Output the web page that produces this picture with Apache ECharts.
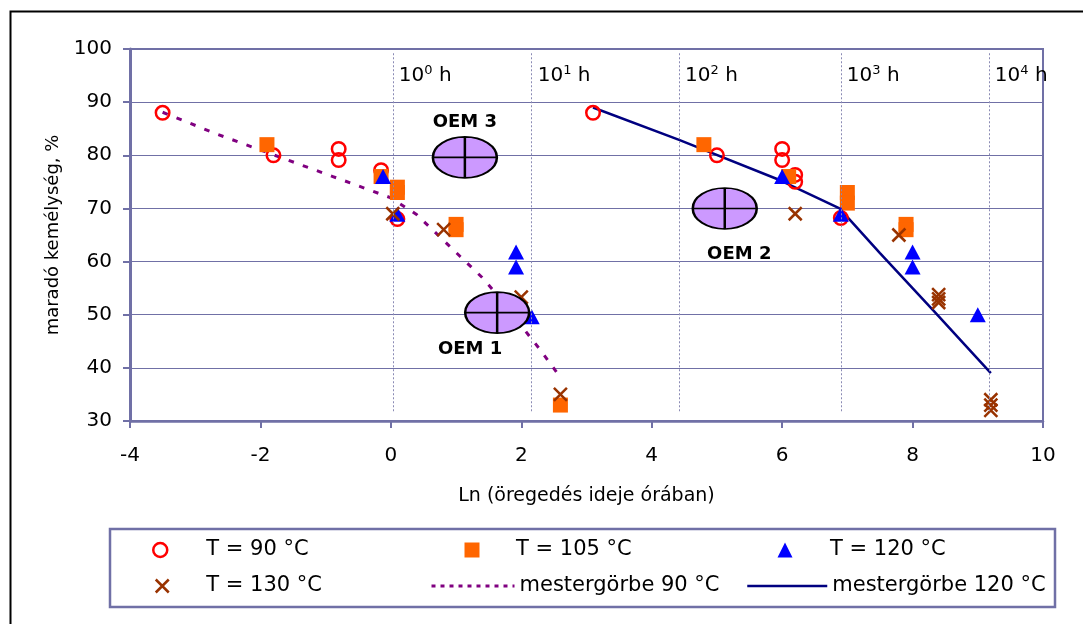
<!DOCTYPE html>
<html><head><meta charset="utf-8">
<script src="https://cdn.jsdelivr.net/npm/echarts@6/dist/echarts.min.js"></script>
<style>html,body{margin:0;padding:0;background:#fff}#c{width:1083px;height:624px}</style>
</head><body><div id="c"></div>
<script>
// ---- data ----
const t90X  = [-3.5, -1.8, -0.8, -0.8, -0.15, 0.1, 3.1, 5.0, 6.0, 6.0, 6.2, 6.2, 6.9];
const t90Y  = [88, 80, 81.2, 79.1, 77.2, 68, 88, 80, 81.2, 79.1, 76.3, 75, 68.2];
const t105X = [-1.9, -0.15, 0.1, 0.1, 1.0, 1.0, 2.6, 4.8, 6.1, 7.0, 7.0, 7.9, 7.9];
const t105Y = [82, 76, 74, 73, 67, 66, 33, 82, 76, 73, 71, 67, 66];
const t120X = [-0.12, 0.1, 1.92, 1.92, 2.16, 6.0, 6.9, 8.0, 8.0, 9.0];
const t120Y = [76, 68.9, 61.8, 59, 49.6, 76, 68.9, 61.8, 59, 50];
const t130X = [0.03, 0.81, 2.0, 2.6, 6.2, 7.79, 8.4, 8.4, 8.4, 9.2, 9.2, 9.2];
const t130Y = [69, 66, 53.3, 35, 69, 65, 53.8, 53, 52.3, 34, 33, 32];
const mg90X  = [-3.5, -2.67, -0.89, 0, 0.4, 1.06, 1.4, 1.57, 2.29, 2.6];
const mg90Y  = [88.1, 84, 76, 72, 68.8, 61, 57, 54.6, 43.4, 38.2];
const mg120X = [3.1, 4.42, 5.97, 6.88, 7.5, 8.31, 8.76, 9.2];
const mg120Y = [89, 82.9, 75.3, 70, 61.6, 50.9, 44.9, 39];
const decadeX   = [0.03, 2.16, 4.42, 6.9, 9.17];
const decadeExp = ['0', '1', '2', '3', '4'];
const oemNames = ['OEM 1', 'OEM 2', 'OEM 3'];
const oemX = [1.63, 5.12, 1.135];
const oemY = [50.4, 70, 79.6];
const xTicks = { min: -4, max: 10, interval: 2 };
const yTicks = { min: 30, max: 100, interval: 10 };
const seriesNames = ['T = 90 °C', 'T = 105 °C', 'T = 120 °C', 'T = 130 °C', 'mestergörbe 90 °C', 'mestergörbe 120 °C'];
const xName = 'Ln (öregedés ideje órában)';
const yName = 'maradó kemélység, %';

// ---- styles ----
const FONT = 'DejaVu Sans';
const AX = '#7070A6';
const zip = (xs, ys) => xs.map((x, i) => [x, ys[i]]);
const X_PATH = 'path://M0,0L10,10M10,0L0,10';
const ELL_PATH = 'path://M0,20A32,20,0,1,1,64,20A32,20,0,1,1,0,20ZM0,20L64,20M32,0L32,40';
const oemLabelOffset = [[-27, 37], [14.5, 46], [0, -35.5]];

const chart = echarts.init(document.getElementById('c'), null, { renderer: 'canvas' });

function leg(name, left, top, w, h, padLeft, extra) {
  return Object.assign({
    data: [name], left: left, top: top, padding: 0, itemWidth: w, itemHeight: h,
    itemGap: 0, selectedMode: false,
    textStyle: { fontFamily: FONT, fontSize: 21, color: '#000', padding: [0, 0, 0, padLeft] }
  }, extra || {});
}

const option = {
  animation: false,
  backgroundColor: '#fff',
  grid: { left: 130, top: 49, width: 913, height: 372, show: true, borderColor: AX, borderWidth: 2, containLabel: false },
  xAxis: {
    type: 'value', min: xTicks.min, max: xTicks.max, interval: xTicks.interval,
    name: xName, nameLocation: 'middle', nameGap: 66,
    nameTextStyle: { fontFamily: FONT, fontSize: 19, color: '#000' },
    axisLine: { show: true, onZero: false, lineStyle: { color: AX, width: 2.5 } },
    axisTick: { show: true, inside: false, length: 7, lineStyle: { color: AX, width: 2 } },
    axisLabel: { fontFamily: FONT, fontSize: 20, color: '#000', margin: 25 },
    splitLine: { show: false }
  },
  yAxis: {
    type: 'value', min: yTicks.min, max: yTicks.max, interval: yTicks.interval,
    name: yName, nameLocation: 'middle', nameGap: 68,
    nameTextStyle: { fontFamily: FONT, fontSize: 18, color: '#000' },
    axisLine: { show: true, onZero: false, lineStyle: { color: AX, width: 3 } },
    axisTick: { show: true, inside: false, length: 7, lineStyle: { color: AX, width: 2 } },
    axisLabel: { fontFamily: FONT, fontSize: 20, color: '#000', margin: 18 },
    splitLine: { show: true, lineStyle: { color: AX, width: 1.2 } }
  },
  legend: [
    leg(seriesNames[0], 152, 539.5, 14, 14, 34, { itemStyle: { color: 'rgba(0,0,0,0)', borderColor: '#FF0000', borderWidth: 2.5 } }),
    leg(seriesNames[1], 464.5, 539.5, 15, 15, 31.5, { itemStyle: { color: '#FF6600', borderWidth: 0 } }),
    leg(seriesNames[2], 777.5, 539.5, 15, 15, 32.5, { itemStyle: { color: '#0000FF', borderWidth: 0 } }),
    leg(seriesNames[3], 154.5, 575.5, 13, 13, 32.5, { itemStyle: { color: '#993300', borderColor: '#993300', borderWidth: 2.5 } }),
    leg(seriesNames[4], 430, 575.5, 83, 14, 0, { itemStyle: { color: 'rgba(0,0,0,0)', borderColor: 'rgba(0,0,0,0)', borderWidth: 0 }, lineStyle: { color: '#800080', width: 3, type: [4, 5] } }),
    leg(seriesNames[5], 746, 575.5, 80, 14, 0, { itemStyle: { color: 'rgba(0,0,0,0)', borderColor: 'rgba(0,0,0,0)', borderWidth: 0 }, lineStyle: { color: '#000080', width: 2.5, type: 'solid' } })
  ],
  graphic: [
    { type: 'rect', left: 8, top: 9, shape: { x: 0, y: 0, width: 1200, height: 700 }, style: { fill: 'none', stroke: '#000', lineWidth: 2 }, silent: true, z: 100 },
    { type: 'rect', shape: { x: 110, y: 529, width: 945, height: 78 }, style: { fill: 'none', stroke: AX, lineWidth: 2.5 }, silent: true, z: 100 }
  ],
  series: [
    {
      name: seriesNames[4], type: 'line', data: zip(mg90X, mg90Y), showSymbol: false, symbol: 'none',
      itemStyle: { color: '#800080' },
      lineStyle: { color: '#800080', width: 3, type: [5.5, 9.5] }, z: 2
    },
    {
      name: seriesNames[5], type: 'line', data: zip(mg120X, mg120Y), showSymbol: false, symbol: 'none',
      itemStyle: { color: '#000080' },
      lineStyle: { color: '#000080', width: 2.5 }, z: 2
    },
    {
      name: seriesNames[0], type: 'scatter', data: zip(t90X, t90Y), symbol: 'circle', symbolSize: 13.5,
      itemStyle: { color: 'rgba(255,255,255,0)', borderColor: '#FF0000', borderWidth: 2.5, opacity: 1 }, z: 3
    },
    {
      name: seriesNames[1], type: 'scatter', data: zip(t105X, t105Y), symbol: 'rect', symbolSize: 15,
      itemStyle: { color: '#FF6600', opacity: 1 }, z: 3
    },
    {
      name: seriesNames[2], type: 'scatter', data: zip(t120X, t120Y), symbol: 'triangle', symbolSize: [16, 15],
      itemStyle: { color: '#0000FF', opacity: 1 }, z: 3
    },
    {
      name: seriesNames[3], type: 'scatter', data: zip(t130X, t130Y), symbol: X_PATH, symbolSize: 13,
      itemStyle: { color: '#993300', borderColor: '#993300', borderWidth: 2.5, opacity: 1 }, z: 3
    },
    {
      name: 'OEM', type: 'scatter', z: 4,
      data: oemNames.map((n, i) => ({
        name: n, value: [oemX[i], oemY[i]],
        label: { offset: oemLabelOffset[i] }
      })),
      symbol: ELL_PATH, symbolSize: [64, 41],
      itemStyle: { color: '#CC99FF', borderColor: '#000', borderWidth: 2, opacity: 1 },
      label: { show: true, position: 'inside', formatter: p => p.name, fontFamily: FONT, fontSize: 18, fontWeight: 'bold', color: '#000' },
      emphasis: { disabled: true }
    },
    {
      name: 'decades', type: 'scatter', z: 5,
      data: decadeX.map(x => [x, 95.1]), symbolSize: 0,
      itemStyle: { color: '#000', opacity: 1, borderWidth: 0 },
      label: {
        show: true, position: 'right', distance: 6, color: '#000', opacity: 1, textBorderWidth: 0,
        formatter: p => '{n|10}{s|' + decadeExp[p.dataIndex] + '}{n| h}',
        rich: {
          n: { fontFamily: FONT, fontSize: 20, color: '#000', verticalAlign: 'bottom' },
          s: { fontFamily: FONT, fontSize: 13, color: '#000', verticalAlign: 'bottom', padding: [0, 0, 9, 0] }
        }
      },
      markLine: {
        silent: true, symbol: ['none', 'none'], label: { show: false },
        lineStyle: { color: '#8A8AB4', width: 1, type: [2, 2] },
        data: decadeX.map(x => [{ coord: [x, 99.2] }, { coord: [x, 31.5] }])
      },
      emphasis: { disabled: true }
    }
  ]
};
chart.setOption(option);
</script>
</body></html>
